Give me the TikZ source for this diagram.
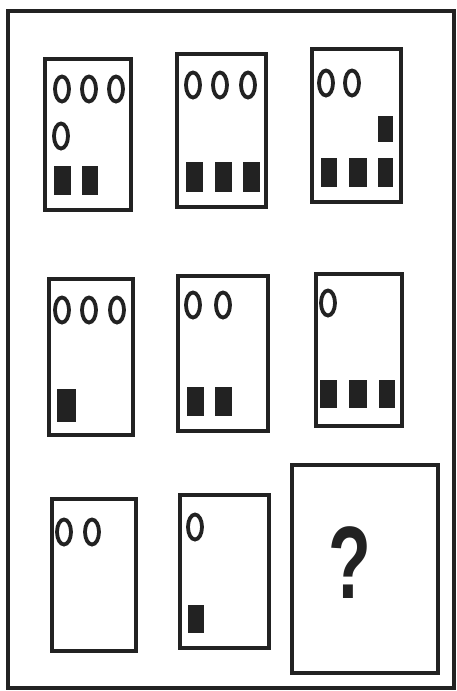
\documentclass[tikz,border=0pt]{standalone}
\usepackage{fontspec}
\newfontfamily\qfont{Liberation Sans}
\usepackage{tikz}
\usetikzlibrary{positioning}
\definecolor{ink}{RGB}{34,34,34}

\begin{document}
\begin{tikzpicture}[x=1pt,y=-1pt,
  frame/.style={draw=ink,line width=3.6pt},
  cell/.style={draw=ink,line width=4pt},
  ring/.style={draw=ink,line width=3.8pt},
  blk/.style={fill=ink},
  qmark/.style={text=ink,inner sep=0pt,font=\qfont\bfseries\fontsize{70}{70}\selectfont}
]
\useasboundingbox (0,0) rectangle (456,691);
\draw[frame] (8,11) rectangle (454,688);
% cells
\draw[cell] (45,59) rectangle (131,210);
\draw[cell] (177,54) rectangle (266,207);
\draw[cell] (312,49) rectangle (401,202);
\draw[cell] (49,279) rectangle (133,435);
\draw[cell] (178,276) rectangle (268,431);
\draw[cell] (316,274) rectangle (402,426);
\draw[cell] (52,499) rectangle (136,651);
\draw[cell] (180,495) rectangle (269,648);
\draw[cell,line width=4.8pt] (292,465) rectangle (438,673);
% circles
\foreach \cx/\cy in {62/89,89/89,116/89,61/136,193/85,220/85,248/85,326/83,352/83,
  62/310,89/310,117/310,193/305,223/305,328/303,64/532,92/532,195/527}
  \draw[ring] (\cx,\cy) ellipse [x radius=7pt,y radius=12.5pt];
% squares
\foreach \ax/\ay/\bx/\by in {54/166/71/195,82/166/98/195,
  186/162/203/192,215/162/232/192,243/162/260/192,
  321/158/337/187,349/158/367/187,378/158/393/187,378/116/393/142,
  57/389/76/422,187/387/204/416,215/387/232/416,
  320/380/337/408,349/380/367/408,379/380/395/408,188/605/204/633}
  \fill[blk] (\ax,\ay) rectangle (\bx,\by);
\node[qmark] (q) at (350,563) {\scalebox{1}[1.47]{?}};
\end{tikzpicture}
\end{document}
